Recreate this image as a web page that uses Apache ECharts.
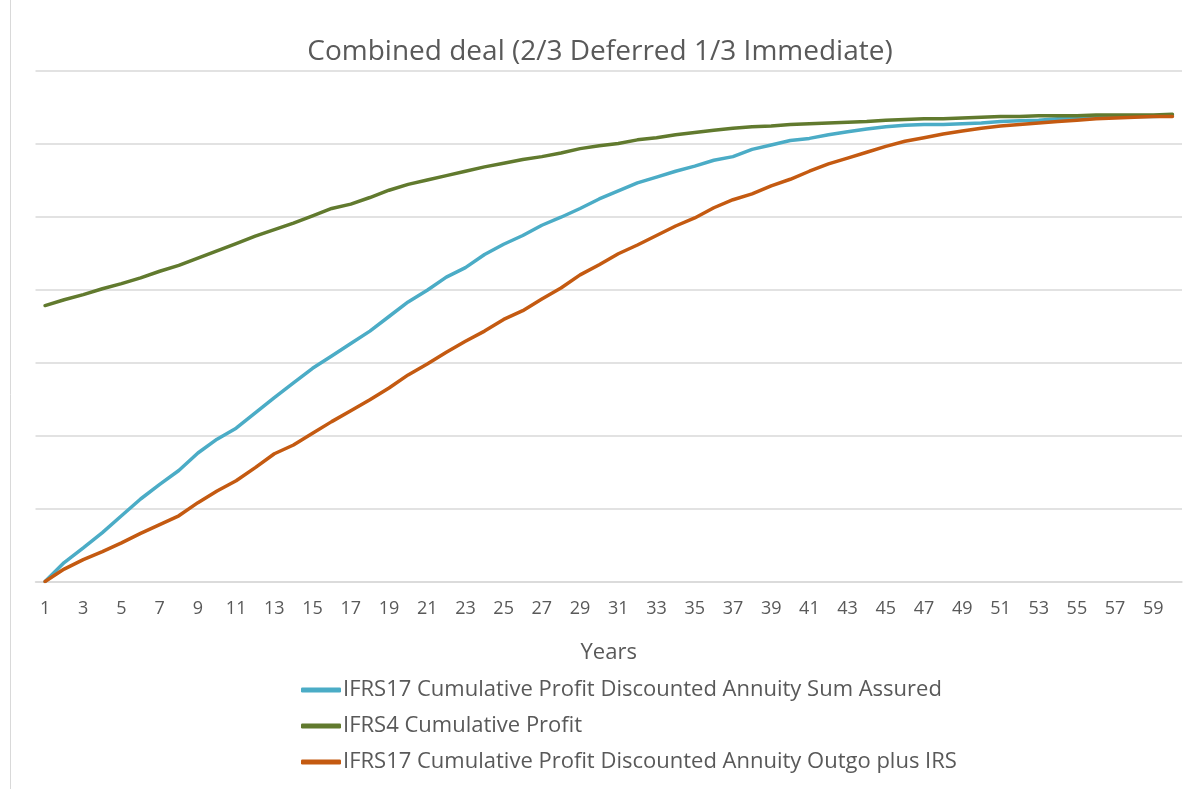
<!DOCTYPE html>
<html>
<head>
<meta charset="utf-8">
<script src="https://cdn.jsdelivr.net/npm/echarts@6/dist/echarts.min.js"></script>
<style>html,body{margin:0;padding:0;background:#fff}#c{width:1200px;height:789px}</style>
</head>
<body>
<div id="c"></div>
<script>
const years = Array.from({length: 60}, (_, i) => String(i + 1));
const seriesNames = [
  'IFRS17 Cumulative Profit Discounted Annuity Sum Assured',
  'IFRS4 Cumulative Profit',
  'IFRS17 Cumulative Profit Discounted Annuity Outgo plus IRS'
];
const ifrs17SumAssured = [0.00,0.26,0.46,0.67,0.90,1.13,1.33,1.52,1.76,1.95,2.10,2.31,2.52,2.72,2.92,3.09,3.26,3.43,3.63,3.83,3.99,4.17,4.30,4.48,4.62,4.74,4.88,4.99,5.11,5.24,5.35,5.46,5.54,5.62,5.69,5.77,5.82,5.92,5.98,6.04,6.07,6.12,6.16,6.20,6.23,6.25,6.26,6.26,6.27,6.28,6.30,6.31,6.32,6.34,6.35,6.36,6.36,6.37,6.37,6.38];
const ifrs4Profit = [3.78,3.86,3.93,4.01,4.08,4.16,4.25,4.33,4.43,4.53,4.63,4.73,4.82,4.91,5.01,5.11,5.17,5.26,5.36,5.44,5.50,5.56,5.62,5.68,5.73,5.78,5.82,5.87,5.93,5.97,6.00,6.05,6.08,6.12,6.15,6.18,6.21,6.23,6.24,6.26,6.27,6.28,6.29,6.30,6.32,6.33,6.34,6.34,6.35,6.36,6.37,6.37,6.38,6.38,6.38,6.39,6.39,6.39,6.39,6.40];
const ifrs17OutgoIRS = [0.00,0.17,0.30,0.41,0.53,0.66,0.78,0.90,1.08,1.24,1.38,1.56,1.75,1.87,2.03,2.19,2.34,2.49,2.65,2.83,2.98,3.14,3.29,3.43,3.59,3.71,3.87,4.02,4.20,4.34,4.49,4.61,4.74,4.87,4.98,5.12,5.23,5.31,5.42,5.51,5.62,5.72,5.80,5.88,5.96,6.03,6.08,6.13,6.17,6.21,6.24,6.26,6.28,6.30,6.32,6.34,6.35,6.36,6.37,6.37];
const colors = ['#4BACC6', '#617A2E', '#C45A11'];

const chart = echarts.init(document.getElementById('c'), null, {renderer: 'canvas'});
const font = '"Open Sans", sans-serif';
function mk(name, data, color) {
  return {
    name, type: 'line', data, color,
    symbol: 'none', smooth: false,
    lineStyle: {width: 3.5, color, cap: 'round', join: 'round'},
    z: 3
  };
}
chart.setOption({
  animation: false,
  backgroundColor: '#fff',
  title: {
    text: 'Combined deal (2/3 Deferred 1/3 Immediate)',
    left: 'center', top: 33,
    textStyle: {fontFamily: font, fontSize: 28, fontWeight: 'normal', color: '#595959'}
  },
  grid: {left: 35.5, right: 18, top: 70.5, bottom: 207.5, containLabel: false},
  xAxis: {
    type: 'category', data: years, boundaryGap: true,
    name: 'Years', nameLocation: 'middle', nameGap: 60,
    nameTextStyle: {fontFamily: font, fontSize: 22, color: '#595959'},
    axisLine: {lineStyle: {color: '#d9d9d9', width: 1.5}},
    axisTick: {show: false},
    axisLabel: {interval: 1, fontFamily: font, fontSize: 18, color: '#595959', margin: 18}
  },
  yAxis: {
    type: 'value', min: 0, max: 7, interval: 1,
    axisLabel: {show: false}, axisLine: {show: false}, axisTick: {show: false},
    splitLine: {lineStyle: {color: '#d9d9d9', width: 1.5}}
  },
  legend: {
    orient: 'vertical', left: 296, top: 674,
    itemWidth: 40, itemHeight: 5, itemGap: 14,
    icon: 'roundRect',
    textStyle: {fontFamily: font, fontSize: 22, color: '#595959', padding: [0, 0, 0, -3]},
    data: seriesNames
  },
  graphic: [{
    type: 'line', shape: {x1: 10.5, y1: 0, x2: 10.5, y2: 789},
    style: {stroke: '#d9d9d9', lineWidth: 1}
  }],
  series: [
    mk(seriesNames[0], ifrs17SumAssured, colors[0]),
    mk(seriesNames[1], ifrs4Profit, colors[1]),
    mk(seriesNames[2], ifrs17OutgoIRS, colors[2])
  ]
});
</script>
</body>
</html>
